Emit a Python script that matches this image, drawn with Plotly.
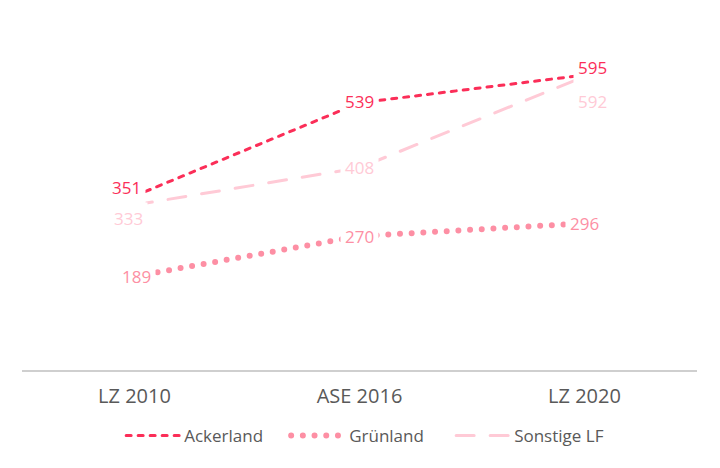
import plotly.graph_objects as go

categories = ["LZ 2010", "ASE 2016", "LZ 2020"]
series_names = ["Ackerland", "Grünland", "Sonstige LF"]
ackerland = [351, 539, 595]
gruenland = [189, 270, 296]
sonstige = [333, 408, 592]

colors = {"Ackerland": "#fb2e58", "Grünland": "#fd8fa4", "Sonstige LF": "#ffcad6"}
dashes = {"Ackerland": "5px,7px", "Grünland": "0px,11.7px", "Sonstige LF": "18px,16px"}
widths = {"Ackerland": 3, "Grünland": 6, "Sonstige LF": 3}
# label offsets (px) for each series at each category
label_shift = {
    "Ackerland": [(-8, 9), (0, 1), (8, 8)],
    "Grünland": [(2, 0), (0, 0), (0, 0)],
    "Sonstige LF": [(-6, -14), (0, 0), (8, -25)],
}

FONT = "Open Sans, Segoe UI, sans-serif"
fig = go.Figure()
annotations = []
for name, vals in zip(series_names, [ackerland, gruenland, sonstige]):
    fig.add_trace(go.Scatter(
        x=categories, y=vals, name=name, mode="lines",
        line=dict(color=colors[name], width=widths[name], dash=dashes[name]),
        hoverinfo="skip",
    ))
    for i, (c, v) in enumerate(zip(categories, vals)):
        dx, dy = label_shift[name][i]
        annotations.append(dict(
            x=c, y=v, xref="x", yref="y", text=str(v), showarrow=False,
            xshift=dx, yshift=dy, bgcolor="white", borderpad=4,
            font=dict(family=FONT, size=17, color=colors[name]),
        ))

fig.update_layout(
    width=720, height=468,
    margin=dict(l=22, r=23, t=23, b=98),
    paper_bgcolor="white", plot_bgcolor="white",
    showlegend=True,
    legend=dict(orientation="h", x=0.518, xanchor="center", y=-0.19, yanchor="middle",
                font=dict(family=FONT, size=17, color="#595959"),
                itemwidth=50, entrywidth=100, entrywidthmode="pixels", tracegroupgap=0),
    annotations=annotations,
    font=dict(family=FONT, color="#595959"),
)
fig.update_xaxes(type="category", range=[-0.5, 2.5], showgrid=False, zeroline=False,
                 showline=True, linecolor="#cfcfcf", linewidth=1.5,
                 ticks="outside", ticklen=7, tickcolor="rgba(0,0,0,0)",
                 tickfont=dict(family=FONT, size=20, color="#595959"))
fig.update_yaxes(range=[0, 700], showgrid=False, zeroline=False, showticklabels=False,
                 showline=False)

post = """
var st = document.createElement('style');
st.innerHTML = '.scatterlayer .js-line, .legendlines path {stroke-linecap: round;}';
document.head.appendChild(st);
document.querySelectorAll('.legendlines path').forEach(function(p){ p.setAttribute('d','M2,0h53'); });
"""
fig.write_html("out.html", post_script=post)
